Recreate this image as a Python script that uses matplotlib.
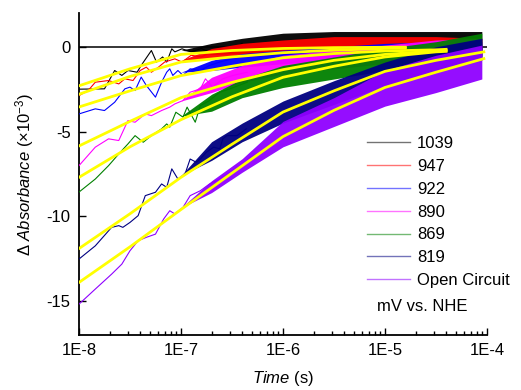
import numpy as np
import matplotlib
matplotlib.use("Agg")
import matplotlib.pyplot as plt
from matplotlib.lines import Line2D
from matplotlib.ticker import FixedLocator, FuncFormatter, LogLocator, NullFormatter

plt.rcParams["font.family"] = ["Liberation Sans", "DejaVu Sans"]
plt.rcParams["mathtext.fontset"] = "custom"
plt.rcParams["mathtext.rm"] = "Liberation Sans"
plt.rcParams["mathtext.it"] = "Liberation Sans:italic"

labels = ["1039", "947", "922", "890", "869", "819", "Open Circuit"]
colors = ["#000000", "#ff0000", "#0000ff", "#ff00ff", "#008000", "#000080", "#8f00ff"]

# early (smooth-ish) part of each trace: log10(time), value (x1e-3)
line_t = [
    [-8.0, -7.75, -7.65, -7.58, -7.52, -7.43, -7.39, -7.29, -7.24, -7.18, -7.14, -7.09, -7.06, -6.99,
     -6.9, -6.8, -6.7, -6.6, -6.5, -6.4],
    [-8.0, -7.91, -7.84, -7.71, -7.61, -7.55, -7.47, -7.40, -7.34, -7.29, -7.22, -7.16, -7.06, -6.99,
     -6.9, -6.8, -6.7, -6.6, -6.5, -6.4],
    [-8.0, -7.84, -7.75, -7.65, -7.55, -7.50, -7.45, -7.39, -7.34, -7.25, -7.19, -7.14, -7.11, -7.08,
     -7.03, -6.98, -6.91, -6.81, -6.72, -6.62, -6.49, -6.35],
    [-8.0, -7.84, -7.71, -7.61, -7.52, -7.45, -7.35, -7.29, -7.19, -7.11, -7.06, -6.98, -6.91, -6.81,
     -6.76, -6.69, -6.59, -6.49, -6.35],
    [-8.0, -7.84, -7.71, -7.61, -7.52, -7.45, -7.37, -7.29, -7.19, -7.14, -7.11, -7.05, -6.98, -6.94,
     -6.86, -6.81, -6.72, -6.62, -6.52, -6.35],
    [-8.0, -7.84, -7.68, -7.61, -7.57, -7.50, -7.42, -7.35, -7.25, -7.19, -7.14, -7.09, -7.03, -6.96,
     -6.91, -6.85, -6.81, -6.75, -6.68, -6.62, -6.59, -6.55, -6.45, -6.36],
    [-8.0, -7.84, -7.68, -7.58, -7.50, -7.42, -7.34, -7.25, -7.17, -7.11, -7.06, -6.98, -6.91, -6.81,
     -6.72, -6.62, -6.52, -6.42, -6.32, -6.23],
]
line_v = [
    [-2.5, -2.48, -1.4, -1.69, -1.4, -1.5, -1.1, -0.22, -0.9, -0.6, -0.9, -0.12, -0.3, -0.12,
     -0.3, -0.1, -0.4, 0.0, -0.2, 0.2],
    [-2.88, -2.58, -2.09, -1.99, -2.19, -1.89, -1.99, -1.4, -1.2, -1.5, -1.2, -0.9, -0.71, -0.9,
     -0.5, -0.6, -0.3, -0.4, -0.1, -0.2],
    [-3.96, -3.66, -3.76, -3.27, -2.48, -2.38, -2.58, -1.79, -2.28, -2.97, -2.09, -1.5, -1.3, -1.69,
     -1.4, -1.69, -1.3, -1.4, -1.1, -0.9, -0.7, -0.5],
    [-7.01, -5.92, -5.43, -5.53, -4.35, -4.45, -3.96, -4.06, -3.76, -3.56, -3.37, -3.17, -2.68, -2.48,
     -1.89, -2.38, -1.89, -1.69, -1.5],
    [-8.57, -7.8, -7.01, -6.32, -5.73, -5.24, -5.63, -5.24, -4.84, -4.55, -4.74, -3.86, -4.15, -3.56,
     -4.45, -3.47, -3.17, -2.68, -2.48, -2.09],
    [-12.52, -11.74, -10.65, -10.55, -10.65, -10.36, -9.96, -8.78, -8.58, -8.09, -8.29, -7.2, -7.8, -7.5,
     -6.62, -6.81, -6.62, -6.22, -5.92, -6.02, -5.43, -5.24, -5.24, -4.84],
    [-15.18, -14.29, -13.41, -12.82, -12.03, -11.44, -11.24, -11.05, -10.16, -9.67, -9.86, -9.47, -8.78, -8.49,
     -8.09, -7.8, -7.4, -7.01, -6.52, -6.22],
]

# late (noisy) part of each trace: envelope of the noise band
band_t = [-7.0, -6.7, -6.4, -6.0, -5.5, -5.0, -4.5, -4.05]
band_lo = [
    [-0.2, -0.45, -0.4, -0.4, -0.4, -0.4, -0.3, -0.3],
    [-0.8, -0.7, -0.6, -0.5, -0.5, -0.5, -0.4, -0.4],
    [-1.5, -1.4, -1.2, -1.0, -0.8, -0.7, -0.6, -0.5],
    [-3.2, -2.7, -2.1, -1.6, -1.3, -1.0, -0.8, -0.7],
    [-4.1, -3.8, -3.0, -2.4, -1.9, -1.4, -0.9, -0.6],
    [-7.6, -6.7, -5.6, -4.5, -3.4, -2.3, -1.5, -0.8],
    [-9.5, -8.6, -7.4, -5.9, -4.7, -3.5, -2.7, -1.9],
]
band_hi = [
    [-0.2, 0.2, 0.5, 0.8, 0.9, 0.9, 0.9, 0.9],
    [-0.8, -0.1, 0.2, 0.4, 0.6, 0.6, 0.6, 0.5],
    [-1.5, -0.8, -0.4, -0.2, 0.0, 0.2, 0.3, 0.3],
    [-3.2, -1.8, -1.1, -0.5, -0.2, 0.1, 0.4, 0.5],
    [-4.1, -2.8, -1.9, -1.1, -0.6, -0.1, 0.3, 0.8],
    [-7.6, -5.6, -4.5, -3.2, -2.0, -0.9, 0.0, 0.5],
    [-9.5, -7.9, -6.6, -4.4, -3.0, -1.4, -0.5, 0.1],
]

# yellow fit curves
fit_t = [
    [-8.0, -7.5, -7.0, -6.5, -6.0, -5.5, -5.0, -4.8],
    [-8.0, -7.5, -7.0, -6.5, -6.0, -5.5, -5.0, -4.8],
    [-8.0, -7.5, -7.0, -6.5, -6.0, -5.5, -5.0, -4.5, -4.4],
    [-8.0, -7.5, -7.0, -6.5, -6.0, -5.5, -5.0, -4.5, -4.4],
    [-8.0, -7.5, -7.0, -6.5, -6.0, -5.5, -5.0, -4.5, -4.4],
    [-8.0, -7.5, -7.0, -6.5, -6.0, -5.5, -5.0, -4.5, -4.03],
    [-8.0, -7.5, -7.0, -6.5, -6.0, -5.5, -5.0, -4.5, -4.03],
]
fit_v = [
    [-2.3, -1.3, -0.45, -0.22, -0.1, -0.05, -0.03, -0.02],
    [-2.8, -1.75, -0.9, -0.6, -0.35, -0.2, -0.1, -0.08],
    [-3.55, -2.6, -1.7, -1.15, -0.65, -0.4, -0.25, -0.18, -0.15],
    [-5.85, -4.4, -3.0, -2.1, -1.35, -0.8, -0.45, -0.25, -0.22],
    [-7.7, -5.9, -4.3, -2.95, -1.8, -1.15, -0.6, -0.3, -0.27],
    [-11.9, -9.85, -7.7, -5.75, -3.85, -2.6, -1.45, -0.8, -0.3],
    [-13.9, -11.8, -9.6, -7.45, -5.3, -3.75, -2.4, -1.5, -0.7],
]

fig = plt.figure(figsize=(5.21, 3.9), dpi=100)
ax = fig.add_axes([0.1516, 0.141, 0.783, 0.826])

ax.axhline(0, color="black", lw=1.1, zorder=1)

tb = 10.0 ** np.array(band_t)
for i in range(len(labels)):
    ax.fill_between(tb, band_lo[i], band_hi[i], color=colors[i], alpha=0.95, lw=0, zorder=2 + i)
    ax.plot(10.0 ** np.array(line_t[i]), line_v[i], color=colors[i], lw=0.8, zorder=2 + i)

for i in range(len(labels)):
    ax.plot(10.0 ** np.array(fit_t[i]), fit_v[i], color="#ffff00", lw=2.0, zorder=20)

ax.set_xscale("log")
ax.set_xlim(1e-8, 1e-4)
ax.set_ylim(-17, 2)

ax.xaxis.set_major_locator(FixedLocator([1e-8, 1e-7, 1e-6, 1e-5, 1e-4]))
ax.xaxis.set_major_formatter(FuncFormatter(lambda x, p: "1E%d" % round(np.log10(x))))
ax.xaxis.set_minor_locator(LogLocator(base=10, subs=np.arange(2, 10), numticks=20))
ax.xaxis.set_minor_formatter(NullFormatter())
ax.set_yticks([0, -5, -10, -15])
ax.set_yticklabels(["0", "-5", "-10", "-15"])

ax.tick_params(which="major", direction="in", length=5, width=1, labelsize=12, pad=6)
ax.tick_params(which="minor", direction="in", length=3, width=1)
ax.tick_params(axis="y", which="both", right=False)
ax.tick_params(axis="x", which="both", top=False)

for s in ["top", "right"]:
    ax.spines[s].set_visible(False)
for s in ["left", "bottom"]:
    ax.spines[s].set_linewidth(1.3)

ax.set_xlabel(r"$\mathit{Time}$ (s)", fontsize=12, labelpad=8)
ax.set_ylabel("\u0394 $\\mathit{Absorbance}$ (\u00d710$^{-3}$)", fontsize=12, labelpad=8)

handles = [Line2D([], [], color=c, lw=1.0, alpha=0.55) for c in colors]
ax.legend(handles, labels, loc="upper left", bbox_to_anchor=(0.69, 0.638),
          frameon=False, fontsize=12, handlelength=2.6, handletextpad=0.4,
          labelspacing=0.47, borderaxespad=0)
ax.text(0.73, 0.087, "mV vs. NHE", transform=ax.transAxes, fontsize=12, va="center")

fig.savefig("out.png", dpi=100)
